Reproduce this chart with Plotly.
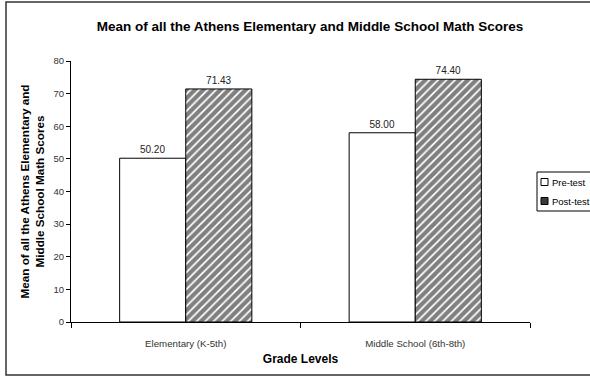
import plotly.graph_objects as go

# Chart data
categories = ["Elementary (K-5th)", "Middle School (6th-8th)"]
pre_test = [50.20, 58.00]
post_test = [71.43, 74.40]
series_names = ["Pre-test", "Post-test"]
y_ticks = [0, 10, 20, 30, 40, 50, 60, 70, 80]

W, H = 590, 377
L, R, T, B = 71, 60, 61, 55          # plot-area margins in px
PW, PH = W - L - R, H - T - B

def px_x(x):
    return (x - L) / PW

def px_y(y):
    return (H - B - y) / PH

FONT = "Arial, Liberation Sans, sans-serif"
HATCH = dict(shape="/", fgcolor="black", bgcolor="white", size=6, solidity=0.7)

fig = go.Figure()
fig.add_trace(go.Bar(
    name=series_names[0], x=categories, y=pre_test,
    marker=dict(color="white", line=dict(color="black", width=1)),
    texttemplate="%{y:.2f}", textposition="outside",
    textfont=dict(size=10, color="#222", family=FONT),
    cliponaxis=False, showlegend=False,
))
fig.add_trace(go.Bar(
    name=series_names[1], x=categories, y=post_test,
    marker=dict(color="white", line=dict(color="black", width=1), pattern=HATCH),
    texttemplate="%{y:.2f}", textposition="outside",
    textfont=dict(size=10, color="#222", family=FONT),
    cliponaxis=False, showlegend=False,
))

fig.update_layout(
    width=W, height=H,
    margin=dict(l=L, r=R, t=T, b=B),
    paper_bgcolor="white", plot_bgcolor="white",
    barmode="group", bargap=0.424, bargroupgap=0,
    font=dict(family=FONT, color="#222"),
    title=dict(text="<b>Mean of all the Athens Elementary and Middle School Math Scores</b>",
               x=310 / W, xanchor="center", y=1 - 26 / H, yanchor="middle",
               font=dict(size=13.5, color="black")),
    xaxis=dict(showline=True, linecolor="black", linewidth=1, automargin=False,
               ticks="outside", tickson="boundaries", ticklen=5, tickcolor="black",
               ticklabelstandoff=12,
               tickfont=dict(size=9.7, color="#333"), showgrid=False,
               title=dict(text="<b>Grade Levels</b>", font=dict(size=12, color="black"),
                          standoff=6)),
    yaxis=dict(range=[0, 80], tickvals=y_ticks, showline=True, linecolor="black",
               linewidth=1, ticks="outside", ticklen=4, tickcolor="black",
               automargin=False,
               tickfont=dict(size=9.5, color="#333"), showgrid=False, zeroline=False,
               title=dict(text="<b>Mean of all the Athens Elementary and<br>Middle School Math Scores</b>",
                          font=dict(size=11.7, color="black"), standoff=6)),
)

# Outer chart-area frame
fig.add_shape(type="rect", xref="paper", yref="paper",
              x0=px_x(6), x1=px_x(W + 3), y0=px_y(375), y1=px_y(2),
              line=dict(color="#333", width=1.5), fillcolor="rgba(0,0,0,0)",
              layer="below")

# Compact legend box at the right edge
fig.add_shape(type="rect", xref="paper", yref="paper",
              x0=px_x(537), x1=px_x(W + 5), y0=px_y(211), y1=px_y(172),
              line=dict(color="black", width=1), fillcolor="white")
legend_rows = [(182, "white"), (201, "#3a3a3a")]
for (yc, swatch), name in zip(legend_rows, series_names):
    fig.add_shape(type="rect", xref="paper", yref="paper",
                  x0=px_x(541), x1=px_x(548), y0=px_y(yc + 3.5), y1=px_y(yc - 3.5),
                  line=dict(color="black", width=1), fillcolor=swatch)
    fig.add_annotation(text=name, xref="paper", yref="paper",
                       x=px_x(550), y=px_y(yc), xanchor="left", yanchor="middle",
                       showarrow=False, font=dict(size=9.5, color="black"))

fig.write_html("out.html")
